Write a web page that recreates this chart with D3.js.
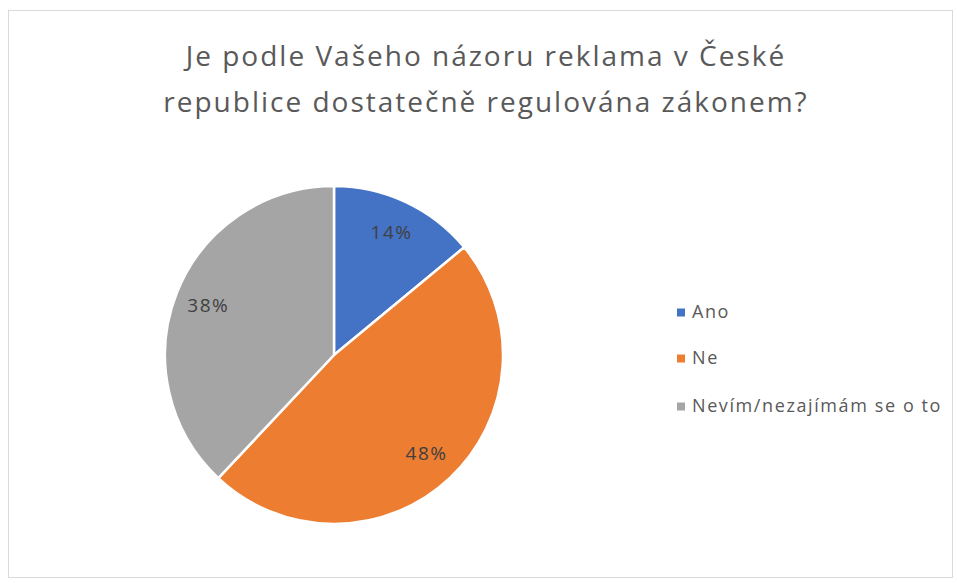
<!DOCTYPE html>
<html>
<head>
<meta charset="utf-8">
<script src="https://cdn.jsdelivr.net/npm/d3@7"></script>
<style>
  html, body { margin: 0; padding: 0; background: #fff; }
  svg { display: block; }
  text { font-family: "Open Sans", Lato, "Noto Sans", sans-serif; }
</style>
</head>
<body>
<svg id="chart" width="957" height="583"></svg>
<script>
// Survey answers and their shares (%)
const categories = ["Ano", "Ne", "Nevím/nezajímám se o to"];
const shares = [14, 48, 38];
const colors = ["#4472c4", "#ed7d31", "#a5a5a5"];
const titleLines = ["Je podle Vašeho názoru reklama v České", "republice dostatečně regulována zákonem?"];

const W = 957, H = 583;
const svg = d3.select("#chart");

// chart frame
svg.append("rect")
  .attr("x", 8.5).attr("y", 10.5)
  .attr("width", 944).attr("height", 567)
  .attr("fill", "#fff")
  .attr("stroke", "#d9d9d9").attr("stroke-width", 1);

// title
svg.append("g").selectAll("text")
  .data(titleLines)
  .join("text")
  .attr("x", 486)
  .attr("y", (d, i) => 66 + i * 46)
  .attr("text-anchor", "middle")
  .attr("fill", "#595959")
  .attr("font-size", 28)
  .attr("letter-spacing", 2)
  .text(d => d);

// pie
const cx = 334, cy = 355, r = 169;
const data = categories.map((c, i) => ({ name: c, value: shares[i], color: colors[i] }));
const pie = d3.pie().value(d => d.value).sort(null);
const arc = d3.arc().innerRadius(0).outerRadius(r);
const labelArc = d3.arc().innerRadius(r * 0.8).outerRadius(r * 0.8);

const g = svg.append("g").attr("transform", `translate(${cx},${cy})`);
const arcs = pie(data);

g.selectAll("path")
  .data(arcs)
  .join("path")
  .attr("d", arc)
  .attr("fill", d => d.data.color)
  .attr("stroke", "#fff")
  .attr("stroke-width", 2.5)
  .attr("stroke-linejoin", "round");

g.selectAll("text.lbl")
  .data(arcs)
  .join("text")
  .attr("class", "lbl")
  .attr("transform", d => `translate(${labelArc.centroid(d)})`)
  .attr("text-anchor", "middle")
  .attr("dy", "0.35em")
  .attr("fill", "#404040")
  .attr("font-size", 19)
  .attr("letter-spacing", 1.5)
  .text(d => d3.format(".0f")(d.data.value) + "%");

// legend
const legend = svg.append("g").attr("transform", "translate(681,0)");
const legendY = [312, 358, 406];
const items = legend.selectAll("g")
  .data(data)
  .join("g")
  .attr("transform", (d, i) => `translate(0,${legendY[i]})`);
items.append("rect")
  .attr("x", -4).attr("y", -3.5)
  .attr("width", 8).attr("height", 8)
  .attr("fill", d => d.color);
items.append("text")
  .attr("x", 11)
  .attr("dy", "0.35em")
  .attr("fill", "#595959")
  .attr("font-size", 18)
  .attr("letter-spacing", 1.6)
  .text(d => d.name);
</script>
</body>
</html>
